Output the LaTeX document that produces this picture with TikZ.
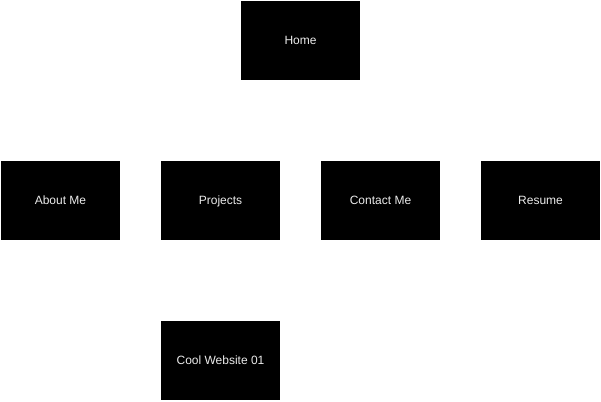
\documentclass[tikz,border=0pt]{standalone}
\usepackage{fontspec}
\setmainfont{Liberation Sans}
\definecolor{txt}{RGB}{235,235,235}
\begin{document}
\begin{tikzpicture}[x=1pt,y=-1pt,
  page/.style={fill=black,minimum width=119pt,minimum height=79pt,inner sep=0pt,text=txt,text height=8.6pt,text depth=1.5pt,font=\fontsize{12}{14}\selectfont}]
\useasboundingbox (0,0) rectangle (601,401);
\node[page] (home) at (300.5,40.5) {Home};
\node[page] (about) at (60.5,200.5) {About Me};
\node[page] (projects) at (220.5,200.5) {Projects};
\node[page] (contact) at (380.5,200.5) {Contact Me};
\node[page] (resume) at (540.5,200.5) {Resume};
\node[page] (cool) at (220.5,360.5) {Cool Website 01};
\end{tikzpicture}
\end{document}
